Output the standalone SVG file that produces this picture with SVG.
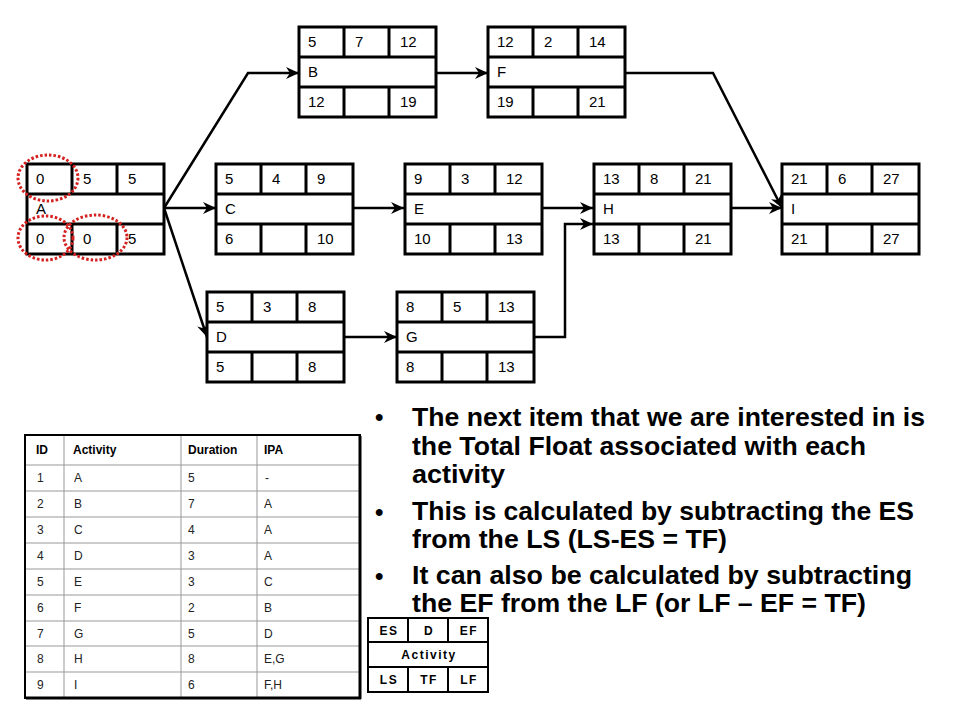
<svg xmlns="http://www.w3.org/2000/svg" width="960" height="720" viewBox="0 0 960 720">
<defs>
<marker id="arr" markerUnits="userSpaceOnUse" markerWidth="14" markerHeight="12" refX="13" refY="6" orient="auto">
<path d="M0,0 L13,6 L0,12 L4,6 Z" fill="#000"/>
</marker>
<style>
.box{fill:#fff;stroke:#000;stroke-width:3}
.div{fill:none;stroke:#000;stroke-width:3}
.nt{font-family:"Liberation Sans",Arial,sans-serif;font-size:15px;fill:#000}
.con{fill:none;stroke:#000;stroke-width:2.5;marker-end:url(#arr)}
.red{fill:none;stroke:#d42020;stroke-width:3;stroke-dasharray:2.5 2}
.th{font-family:"Liberation Sans",Arial,sans-serif;font-size:12px;font-weight:bold;fill:#000}
.td{font-family:"Liberation Sans",Arial,sans-serif;font-size:12px;fill:#222}
.grid{stroke:#999;stroke-width:1;fill:none}
.lg{font-family:"Liberation Sans",Arial,sans-serif;font-size:12px;font-weight:bold;fill:#000;text-anchor:middle;letter-spacing:1.5px}
.bt{font-family:"Liberation Sans",Arial,sans-serif;font-size:26px;font-weight:bold;fill:#000}
.bu{font-family:"Liberation Sans",Arial,sans-serif;font-size:24px;font-weight:bold;fill:#000}
</style>
</defs>
<rect width="960" height="720" fill="#fff"/>

<g id="connectors">
<path class="con" d="M164,208 L248,73 L299,73"/>
<path class="con" d="M164,208 L216,208"/>
<path class="con" d="M164,208 L207,337"/>
<path class="con" d="M436,73 L488,73"/>
<path class="con" d="M625,73 L713,73 L782,208"/>
<path class="con" d="M353,208 L404,208"/>
<path class="con" d="M542,208 L593,208"/>
<path class="con" d="M732,208 L782,208"/>
<path class="con" d="M345,337 L397,337"/>
<path class="con" d="M533,337 L565,337 L565,224 L593,224"/>
</g>

<g id="node-A">
<rect class="box" x="27" y="164" width="137" height="90"/>
<path class="div" d="M27,194H164M27,224H164M72,164V194M117,164V194M72,224V254M117,224V254"/>
<text class="nt" x="36" y="184">0</text><text class="nt" x="83" y="184">5</text><text class="nt" x="128" y="184">5</text>
<text class="nt" x="36" y="214">A</text>
<text class="nt" x="36" y="244">0</text><text class="nt" x="83" y="244">0</text><text class="nt" x="128" y="244">5</text>
</g>
<g id="node-B">
<rect class="box" x="299" y="27" width="137" height="90"/>
<path class="div" d="M299,57H436M299,87H436M344,27V57M389,27V57M344,87V117M389,87V117"/>
<text class="nt" x="308" y="47">5</text><text class="nt" x="355" y="47">7</text><text class="nt" x="400" y="47">12</text>
<text class="nt" x="308" y="77">B</text>
<text class="nt" x="308" y="107">12</text><text class="nt" x="400" y="107">19</text>
</g>
<g id="node-F">
<rect class="box" x="488" y="27" width="137" height="90"/>
<path class="div" d="M488,57H625M488,87H625M533,27V57M578,27V57M533,87V117M578,87V117"/>
<text class="nt" x="497" y="47">12</text><text class="nt" x="544" y="47">2</text><text class="nt" x="589" y="47">14</text>
<text class="nt" x="497" y="77">F</text>
<text class="nt" x="497" y="107">19</text><text class="nt" x="589" y="107">21</text>
</g>
<g id="node-C">
<rect class="box" x="216" y="164" width="137" height="90"/>
<path class="div" d="M216,194H353M216,224H353M261,164V194M306,164V194M261,224V254M306,224V254"/>
<text class="nt" x="225" y="184">5</text><text class="nt" x="272" y="184">4</text><text class="nt" x="317" y="184">9</text>
<text class="nt" x="225" y="214">C</text>
<text class="nt" x="225" y="244">6</text><text class="nt" x="317" y="244">10</text>
</g>
<g id="node-E">
<rect class="box" x="405" y="164" width="137" height="90"/>
<path class="div" d="M405,194H542M405,224H542M450,164V194M495,164V194M450,224V254M495,224V254"/>
<text class="nt" x="414" y="184">9</text><text class="nt" x="461" y="184">3</text><text class="nt" x="506" y="184">12</text>
<text class="nt" x="414" y="214">E</text>
<text class="nt" x="414" y="244">10</text><text class="nt" x="506" y="244">13</text>
</g>
<g id="node-H">
<rect class="box" x="594" y="164" width="137" height="90"/>
<path class="div" d="M594,194H731M594,224H731M639,164V194M684,164V194M639,224V254M684,224V254"/>
<text class="nt" x="603" y="184">13</text><text class="nt" x="650" y="184">8</text><text class="nt" x="695" y="184">21</text>
<text class="nt" x="603" y="214">H</text>
<text class="nt" x="603" y="244">13</text><text class="nt" x="695" y="244">21</text>
</g>
<g id="node-I">
<rect class="box" x="782" y="164" width="137" height="90"/>
<path class="div" d="M782,194H919M782,224H919M827,164V194M872,164V194M827,224V254M872,224V254"/>
<text class="nt" x="791" y="184">21</text><text class="nt" x="838" y="184">6</text><text class="nt" x="883" y="184">27</text>
<text class="nt" x="791" y="214">I</text>
<text class="nt" x="791" y="244">21</text><text class="nt" x="883" y="244">27</text>
</g>
<g id="node-D">
<rect class="box" x="207" y="292" width="137" height="90"/>
<path class="div" d="M207,322H344M207,352H344M252,292V322M297,292V322M252,352V382M297,352V382"/>
<text class="nt" x="216" y="312">5</text><text class="nt" x="263" y="312">3</text><text class="nt" x="308" y="312">8</text>
<text class="nt" x="216" y="342">D</text>
<text class="nt" x="216" y="372">5</text><text class="nt" x="308" y="372">8</text>
</g>
<g id="node-G">
<rect class="box" x="397" y="292" width="137" height="90"/>
<path class="div" d="M397,322H534M397,352H534M442,292V322M487,292V322M442,352V382M487,352V382"/>
<text class="nt" x="406" y="312">8</text><text class="nt" x="453" y="312">5</text><text class="nt" x="498" y="312">13</text>
<text class="nt" x="406" y="342">G</text>
<text class="nt" x="406" y="372">8</text><text class="nt" x="498" y="372">13</text>
</g>

<g id="highlights">
<ellipse class="red" cx="48" cy="178" rx="30" ry="23"/>
<ellipse class="red" cx="45.5" cy="238" rx="27.5" ry="22"/>
<ellipse class="red" cx="95.5" cy="237.5" rx="31.5" ry="22.5"/>
</g>

<g id="table">
<rect x="25" y="435" width="335" height="263" fill="#fff" stroke="#000" stroke-width="2"/>
<path class="grid" d="M64,436V697M181,436V697M257,436V697M26,465H359M26,491H359M26,517H359M26,543H359M26,569H359M26,595H359M26,621H359M26,646H359M26,672H359"/>
<path d="M360,436V699M26,698H361" stroke="#000" stroke-width="3" fill="none"/>
<text class="th" x="36" y="454">ID</text><text class="th" x="73" y="454">Activity</text><text class="th" x="188" y="454">Duration</text><text class="th" x="264" y="454">IPA</text>
<text class="td" x="37" y="482">1</text><text class="td" x="74" y="482">A</text><text class="td" x="188" y="482">5</text><text class="td" x="265" y="482">-</text>
<text class="td" x="37" y="508">2</text><text class="td" x="74" y="508">B</text><text class="td" x="188" y="508">7</text><text class="td" x="264" y="508">A</text>
<text class="td" x="37" y="534">3</text><text class="td" x="74" y="534">C</text><text class="td" x="188" y="534">4</text><text class="td" x="264" y="534">A</text>
<text class="td" x="37" y="560">4</text><text class="td" x="74" y="560">D</text><text class="td" x="188" y="560">3</text><text class="td" x="264" y="560">A</text>
<text class="td" x="37" y="586">5</text><text class="td" x="74" y="586">E</text><text class="td" x="188" y="586">3</text><text class="td" x="264" y="586">C</text>
<text class="td" x="37" y="612">6</text><text class="td" x="74" y="612">F</text><text class="td" x="188" y="612">2</text><text class="td" x="264" y="612">B</text>
<text class="td" x="37" y="638">7</text><text class="td" x="74" y="638">G</text><text class="td" x="188" y="638">5</text><text class="td" x="264" y="638">D</text>
<text class="td" x="37" y="663">8</text><text class="td" x="74" y="663">H</text><text class="td" x="188" y="663">8</text><text class="td" x="264" y="663">E,G</text>
<text class="td" x="37" y="689">9</text><text class="td" x="74" y="689">I</text><text class="td" x="188" y="689">6</text><text class="td" x="264" y="689">F,H</text>
</g>

<g id="legend">
<rect x="368" y="618" width="120" height="74" fill="#fff" stroke="#000" stroke-width="2"/>
<path d="M368,642H488M368,667H488M408,618V642M448,618V642M408,667V692M448,667V692" stroke="#000" stroke-width="2" fill="none"/>
<text class="lg" x="389" y="635">ES</text><text class="lg" x="429" y="635">D</text><text class="lg" x="469" y="635">EF</text>
<text class="lg" x="429" y="659">Activity</text>
<text class="lg" x="389" y="684">LS</text><text class="lg" x="429" y="684">TF</text><text class="lg" x="469" y="684">LF</text>
</g>

<g id="bullets">
<text class="bu" x="375" y="425">•</text>
<text class="bt" x="412" y="426" textLength="513" lengthAdjust="spacingAndGlyphs">The next item that we are interested in is</text>
<text class="bt" x="412" y="455" textLength="454" lengthAdjust="spacingAndGlyphs">the Total Float associated with each</text>
<text class="bt" x="412" y="483" textLength="93" lengthAdjust="spacingAndGlyphs">activity</text>
<text class="bu" x="375" y="520">•</text>
<text class="bt" x="412" y="520" textLength="502" lengthAdjust="spacingAndGlyphs">This is calculated by subtracting the ES</text>
<text class="bt" x="412" y="548" textLength="315" lengthAdjust="spacingAndGlyphs">from the LS (LS-ES = TF)</text>
<text class="bu" x="375" y="584">•</text>
<text class="bt" x="412" y="584" textLength="500" lengthAdjust="spacingAndGlyphs">It can also be calculated by subtracting</text>
<text class="bt" x="412" y="612" textLength="454" lengthAdjust="spacingAndGlyphs">the EF from the LF (or LF – EF = TF)</text>
</g>
</svg>
